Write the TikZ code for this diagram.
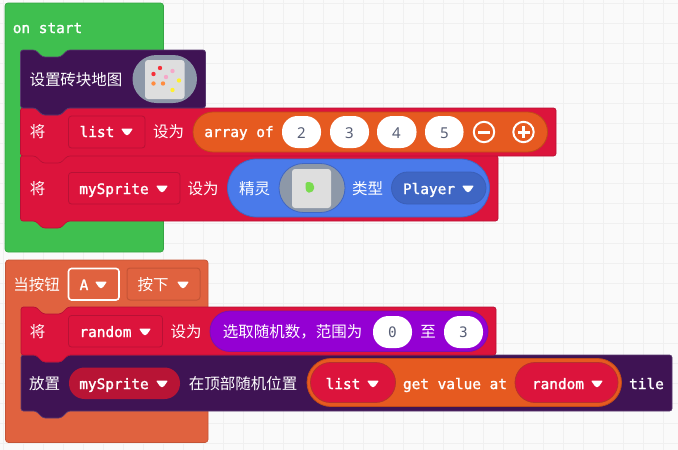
\documentclass[tikz,border=0pt]{standalone}
\usepackage{fontspec}
\setmainfont{Noto Sans}
\newfontfamily\cjkf{Noto Sans CJK SC}
\newfontfamily\monof[FakeBold=1.6]{DejaVu Sans Mono}
\newfontfamily\monor{DejaVu Sans Mono}
\definecolor{gridc}{HTML}{F0F0F0}
\definecolor{bgc}{HTML}{FAFAFA}
\definecolor{greenb}{HTML}{3FBF4F}
\definecolor{greenl}{HTML}{36A544}
\definecolor{orb}{HTML}{E0623F}
\definecolor{orl}{HTML}{C45436}
\definecolor{darkp}{HTML}{3F1354}
\definecolor{darkpl}{HTML}{5A3A70}
\definecolor{redb}{HTML}{DC143C}
\definecolor{redl}{HTML}{B81135}
\definecolor{reddd}{HTML}{B81435}
\definecolor{arr}{HTML}{E65A20}
\definecolor{arrl}{HTML}{C04A18}
\definecolor{pillredl}{HTML}{B8302C}
\definecolor{blueb}{HTML}{4A7AEA}
\definecolor{bluel}{HTML}{3F66C4}
\definecolor{bluedd}{HTML}{3A5FB8}
\definecolor{violetb}{HTML}{9400D3}
\definecolor{violetl}{HTML}{7A10B0}
\definecolor{greyf}{HTML}{8D98A8}
\definecolor{squarec}{HTML}{DEDEDE}
\definecolor{numc}{HTML}{575E75}
\definecolor{spriteg}{HTML}{7ADB4F}
\definecolor{dotr}{HTML}{F5303A}
\definecolor{dotp}{HTML}{F5A8C8}
\definecolor{doty}{HTML}{FFF030}
\definecolor{doto}{HTML}{FF8C40}
\tikzset{
  x=1pt,y=-1pt,
  monot/.style={anchor=base,inner sep=0pt,text=white,font=\monof\fontsize{14.4}{16}\selectfont},
  cjkt/.style={anchor=base,inner sep=0pt,text=white,font=\cjkf\fontsize{15.5}{18}\selectfont},
  numt/.style={anchor=base,inner sep=0pt,text=numc,font=\fontsize{15}{18}\selectfont},
  nummono/.style={anchor=base,inner sep=0pt,text=numc,font=\monor\fontsize{14.4}{16}\selectfont},
  whitef/.style={fill=white,draw=none},
  ddred/.style={fill=redb,draw=redl,line width=.8pt},
  ddorange/.style={fill=orb,draw=orl,line width=1pt},
  gridline/.style={draw=gridc,line width=1pt},
}
% block with top notch and bottom tab: x1,y1,x2,y2,fill,line
\newcommand\stackblk[6]{%
  \draw[fill=#5,draw=#6,line width=.7pt,rounded corners=2.5pt,line join=round]
    (#1,#2) -- ({#1+15},#2) -- ({#1+22},{#2+7}) -- ({#1+40},{#2+7}) -- ({#1+47},#2)
    -- (#3,#2) -- (#3,#4) -- ({#1+47},#4) -- ({#1+40},{#4+7}) -- ({#1+22},{#4+7}) -- ({#1+15},#4)
    -- (#1,#4) -- cycle;}
\newcommand\pillbox[6]{\draw[#1,rounded corners=#6pt] (#2,#3) rectangle (#4,#5);}
\newcommand\ddtri[2]{\fill[white,rounded corners=1pt] ({#1-6},{#2-3.5}) -- ({#1+6},{#2-3.5}) -- ({#1+1.5},{#2+3}) -- ({#1-1.5},{#2+3}) -- cycle;}
\newcommand\numoval[4]{\pillbox{whitef}{#1}{#2}{#3}{#4}{15.5}}
\begin{document}
\begin{tikzpicture}
\useasboundingbox (0,0) rectangle (678,450);
\fill[bgc] (0,0) rectangle (678,450);
\foreach \gx in {3,23,...,663} {\draw[gridline] (\gx,0) -- (\gx,450);}
\foreach \gy in {3,23,...,443} {\draw[gridline] (0,\gy) -- (678,\gy);}

% hat blocks
\draw[fill=greenb,draw=greenl,line width=.7pt,rounded corners=3pt] (5,3) rectangle (163.5,252);
\draw[fill=orb,draw=orl,line width=.7pt,rounded corners=3pt] (5.5,260) rectangle (208,442.5);

% stack blocks, lowest first so that each tab lies over the next block
\stackblk{20.5}{155.5}{498}{221}{redb}{redl}
\stackblk{20.5}{108}{556}{156}{redb}{redl}
\stackblk{20.5}{50}{205.5}{108}{darkp}{darkpl}
\stackblk{21}{355}{672}{411}{darkp}{darkpl}
\stackblk{21}{307}{496}{355}{redb}{redl}

\node[monot] (onstart) at (47.5,33) {on start};

% button header
\node[cjkt] (dang) at (36.5,290.5) {当按钮};
\pillbox{fill=orb,draw=white,line width=1.6pt}{68.5}{268.5}{119}{300}{3}
\node[monot] (abtn) at (84,290) {A};
\ddtri{101}{285}
\pillbox{ddorange}{127}{268}{200}{300}{3}
\node[cjkt] (anxia) at (153,290.5) {按下};
\ddtri{183}{285}

% tilemap row
\node[cjkt] (settile) at (76,85.5) {设置砖块地图};
\pillbox{fill=greyf,draw=none}{132.5}{55}{197}{103}{24}
\pillbox{fill=squarec,draw=none}{145}{60}{184.5}{99}{3}
\fill[dotr] (160,68) circle (2.2);
\fill[dotr] (153.5,74) circle (2.2);
\fill[dotp] (172.5,71) circle (2.2);
\fill[dotp] (166,77) circle (2.2);
\fill[doty] (179,80.5) circle (2.2);
\fill[doto] (153.5,83.5) circle (2.2);
\fill[doto] (163,83.5) circle (2.2);
\fill[doty] (172.5,90) circle (2.2);

% list row
\node[cjkt] (jiang) at (37.5,137.5) {将};
\pillbox{ddred}{68.5}{116}{145}{148}{3}
\node[monot] (listv) at (97,137) {list};
\ddtri{127}{132}
\node[cjkt] (shewei) at (168.5,137.5) {设为};
\pillbox{fill=arr,draw=arrl,line width=.8pt}{193}{112}{547.5}{152}{20}
\node[monot] (arrayof) at (239,137) {array of};
\numoval{282}{116}{321}{148}
\node[numt] (n2) at (301.5,138) {2};
\numoval{330}{116}{369}{148}
\node[numt] (n3) at (349.5,138) {3};
\numoval{377}{116}{416.5}{148}
\node[numt] (n4) at (396.5,138) {4};
\numoval{425}{116}{463.5}{148}
\node[numt] (n5) at (444.5,138) {5};
\draw[white,line width=2pt] (484,132) circle (10.2);
\draw[white,line width=3pt] (478,132) -- (490,132);
\draw[white,line width=2pt] (523.5,132) circle (10.2);
\draw[white,line width=3pt] (517.5,132) -- (529.5,132);
\draw[white,line width=3pt] (523.5,126) -- (523.5,138);

% mySprite row
\node[cjkt] (jiang2) at (37.5,194.5) {将};
\pillbox{ddred}{68.5}{172.5}{180}{204}{3}
\node[monot] (spr) at (114,194) {mySprite};
\ddtri{162}{189}
\node[cjkt] (shewei2) at (203,194.5) {设为};
\pillbox{fill=blueb,draw=bluel,line width=.8pt}{227.5}{159}{489.5}{217}{29}
\node[cjkt] (jingling) at (254.5,194.5) {精灵};
\pillbox{fill=greyf,draw=bluel,line width=.8pt}{279}{163.5}{345}{212.5}{24.5}
\pillbox{fill=squarec,draw=none}{292}{169}{331}{208}{3}
\fill[spriteg,rounded corners=1.5pt] (305.5,182) -- (311,182) -- (314,185) -- (314,190) -- (311,192.5) -- (307,192.5) -- (305.5,189) -- cycle;
\node[cjkt] (leixing) at (367.5,194.5) {类型};
\pillbox{fill=bluel,draw=bluedd,line width=.8pt}{391.5}{172}{486}{204}{16}
\node[monot] (player) at (429,194) {Player};
\ddtri{468}{189}

% random row
\node[cjkt] (jiang3) at (37.5,337.5) {将};
\pillbox{ddred}{68.5}{315.5}{162.5}{347}{3}
\node[monot] (rnd) at (105.5,337) {random};
\ddtri{145}{332}
\node[cjkt] (shewei3) at (186,337.5) {设为};
\pillbox{fill=violetb,draw=violetl,line width=.8pt}{210}{311}{488}{351.5}{20}
\node[cjkt] (xuanqu) at (292.5,337.5) {选取随机数，范围为};
\numoval{373}{316}{412}{348}
\node[nummono] (n0) at (392.5,337) {0};
\node[cjkt] (zhi) at (428,337.5) {至};
\numoval{444}{316}{483}{348}
\node[nummono] (n33) at (463.5,337) {3};

% place row
\node[cjkt] (fangzhi) at (44.5,389.5) {放置};
\pillbox{fill=reddd,draw=none}{69}{367.5}{180}{399}{15.5}
\node[monot] (spr2) at (114,389) {mySprite};
\ddtri{162}{384}
\node[cjkt] (zaiding) at (243,389.5) {在顶部随机位置};
\pillbox{fill=arr,draw=arrl,line width=.8pt}{307}{358.5}{621.5}{406.5}{24}
\pillbox{fill=redb,draw=pillredl,line width=.8pt}{310.5}{362.5}{395.5}{402.5}{20}
\node[monot] (listv2) at (343,389) {list};
\ddtri{373}{384}
\node[monot] (getv) at (455,389) {get value at};
\pillbox{fill=redb,draw=pillredl,line width=.8pt}{515}{362.5}{618}{402.5}{20}
\node[monot] (rnd3) at (558,389) {random};
\ddtri{597}{384}
\node[monot] (tile) at (646.5,389) {tile};
\end{tikzpicture}
\end{document}
